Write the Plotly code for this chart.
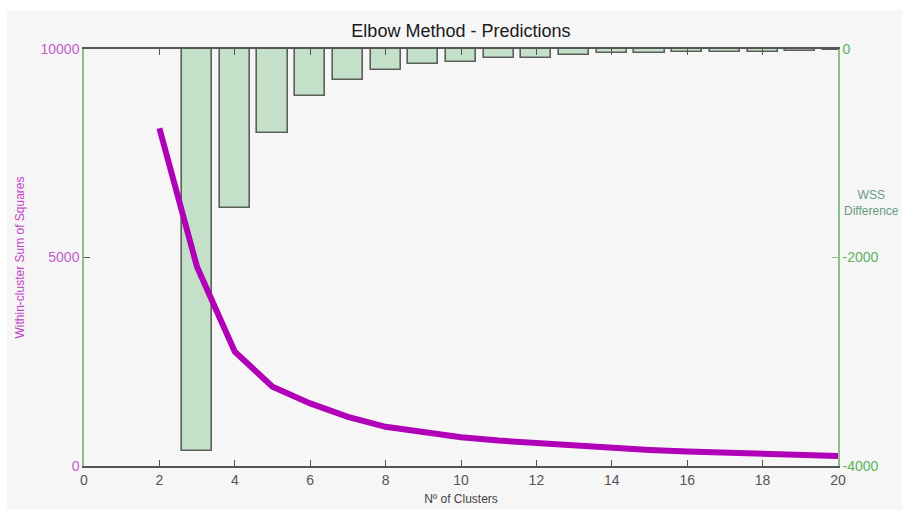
import plotly.graph_objects as go

# Number of clusters tested and within-cluster sum of squares for each
clusters = [2, 3, 4, 5, 6, 7, 8, 9, 10, 11, 12, 13, 14, 15, 16, 17, 18, 19, 20]
wss = [8100, 4770, 2740, 1900, 1500, 1180, 940, 800, 690, 610, 545, 480,
       425, 385, 345, 312, 288, 264, 240]

# Change in WSS when one more cluster is added
diff_clusters = [3, 4, 5, 6, 7, 8, 9, 10, 11, 12, 13, 14, 15, 16, 17, 18, 19, 20]
wss_diff = [-3855, -1525, -805, -450, -300, -205, -145, -120, -90, -83,
            -58, -42, -35, -32, -25, -25, -20, -10]

x_ticks = [0, 2, 4, 6, 8, 10, 12, 14, 16, 18, 20]
wss_ticks = [0, 5000, 10000]
wss_tick_text = ["0", "5000", "10000"]
diff_ticks = [-4000, -2000, 0]
diff_tick_text = ["-4000", "-2000", "0"]

FONT = "Liberation Sans, Arial, sans-serif"
MAGENTA = "#b000b8"
LEFT_LABEL = "#c45cc8"
GREEN_AXIS = "#86c38c"
GREEN_LABEL = "#5bb35b"
GREY_AXIS = "#555555"

fig = go.Figure()

fig.add_trace(go.Bar(
    x=diff_clusters, y=wss_diff, yaxis="y", width=0.8,
    marker=dict(color="#c4e0c8", line=dict(color="#5a5f5a", width=1.6)),
    showlegend=False,
))

fig.add_trace(go.Scatter(
    x=clusters, y=wss, yaxis="y2", mode="lines",
    line=dict(color=MAGENTA, width=6),
    showlegend=False,
))

fig.update_layout(
    width=902, height=512,
    margin=dict(l=84, r=64, t=49, b=46),
    paper_bgcolor="white",
    plot_bgcolor="rgba(0,0,0,0)",
    font=dict(family=FONT, size=13, color="#444444"),
    title=dict(text="Elbow Method - Predictions", x=0.511, xanchor="center",
               y=0.94, yanchor="middle",
               font=dict(family=FONT, size=18, color="#1a1a1a")),
    bargap=0,
    xaxis=dict(
        range=[0, 20], tickvals=x_ticks, ticks="inside", ticklen=6,
        tickcolor=GREY_AXIS, showline=True, linecolor=GREY_AXIS, linewidth=1.5,
        mirror="ticks", showgrid=False, zeroline=False, automargin=False,
        tickfont=dict(size=14, color="#555555"),
        title=dict(text="Nº of Clusters", standoff=8,
                   font=dict(size=12, color="#444444")),
    ),
    yaxis=dict(
        side="right", range=[-4000, 0], tickvals=diff_ticks,
        ticktext=diff_tick_text, automargin=False,
        ticks="inside", ticklen=6, tickcolor=GREEN_AXIS,
        showline=True, linecolor=GREEN_AXIS, linewidth=1.5,
        showgrid=False, zeroline=False,
        tickfont=dict(size=14, color=GREEN_LABEL),
    ),
    yaxis2=dict(
        overlaying="y", side="left", range=[0, 10000], tickvals=wss_ticks,
        ticktext=wss_tick_text, automargin=False,
        ticks="inside", ticklen=6, tickcolor=GREY_AXIS,
        showline=True, linecolor=GREEN_AXIS, linewidth=1.5,
        showgrid=False, zeroline=False,
        tickfont=dict(size=14, color=LEFT_LABEL),
        title=dict(text="Within-cluster Sum of Squares", standoff=13,
                   font=dict(size=12, color="#c040c8")),
    ),
    shapes=[dict(type="rect", xref="paper", yref="paper",
                 x0=-0.102, x1=1.1, y0=-0.1055, y1=1.0935,
                 fillcolor="#f6f6f6", line=dict(width=0), layer="below")],
    annotations=[dict(text="WSS<br>Difference", xref="paper", yref="paper",
                      x=1.045, y=0.63, xanchor="center", yanchor="middle",
                      showarrow=False, align="center",
                      font=dict(size=12, color="#6a9a82"))],
)

fig.write_html("out.html")
